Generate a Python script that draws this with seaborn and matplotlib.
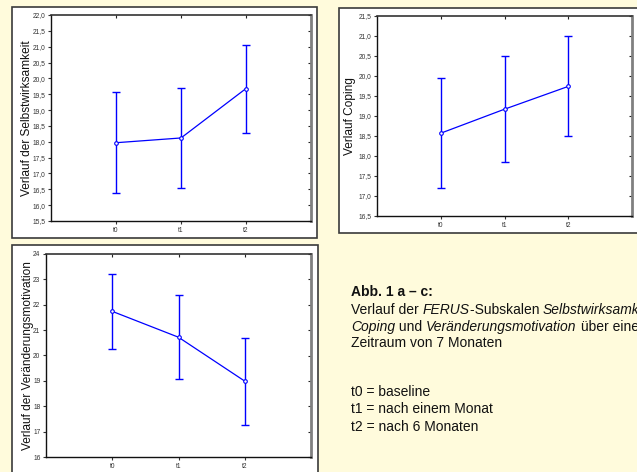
import seaborn as sns
import matplotlib.pyplot as plt
import matplotlib.ticker as mticker
from matplotlib.patches import Rectangle
import numpy as np
import pandas as pd

# Values (mean plus the ends of each error bar).
time_points = ['t0', 't1', 't2']

selbst_mean = [17.97, 18.12, 19.68]
selbst_low = [16.37, 16.53, 18.29]
selbst_high = [19.57, 19.69, 21.05]

coping_mean = [18.57, 19.17, 19.74]
coping_low = [17.19, 17.84, 18.50]
coping_high = [19.94, 20.49, 20.99]

motiv_mean = [21.74, 20.72, 18.99]
motiv_low = [20.27, 19.06, 17.26]
motiv_high = [23.22, 22.39, 20.70]

sns.set_theme(style='white')
plt.rcParams['font.family'] = ['Liberation Sans', 'DejaVu Sans']

bg = '#fffbdc'
fig = plt.figure(figsize=(6.37, 4.72), dpi=100, facecolor=bg)
W, H = 637, 472


def px_box(x0, y0, x1, y1):
    # pixel box (top-left origin) -> figure fraction rect
    return [x0 / W, 1 - y1 / H, (x1 - x0) / W, (y1 - y0) / H]


# White frames behind each panel.
for x0, y0, x1, y1 in [(12, 7, 317, 238), (339, 8, 645, 233), (12, 245, 318, 480)]:
    r = px_box(x0, y0, x1, y1)
    fig.patches.append(Rectangle((r[0], r[1]), r[2], r[3], transform=fig.transFigure,
                                 facecolor='white', edgecolor='#3a3a3a', lw=1.2, zorder=-5))

panels = [
    (px_box(51, 15, 311, 221), selbst_mean, selbst_low, selbst_high,
     'Verlauf der Selbstwirksamkeit', (15.5, 22.0), 0.5, True, 27),
    (px_box(377, 16, 632, 216), coping_mean, coping_low, coping_high,
     'Verlauf Coping', (16.5, 21.5), 0.5, True, 350),
    (px_box(46, 254, 311, 457), motiv_mean, motiv_low, motiv_high,
     'Verlauf der Veränderungsmotivation', (16, 24), 1, False, 28),
]

for rect, mean, low, high, label, ylim, step, decimals, label_x in panels:
    ax = fig.add_axes(rect)
    ax.set_zorder(2)
    ax.set_facecolor('white')
    df = pd.DataFrame({'time': time_points, 'value': mean})
    sns.pointplot(data=df, x='time', y='value', color='#0000ff', errorbar=None,
                  markers='o', markersize=2.6, linewidth=0.9, ax=ax)
    for line in ax.lines:
        line.set_markerfacecolor('white')
        line.set_markeredgewidth(0.8)
        line.set_zorder(3)
    m = np.array(mean)
    ax.errorbar(range(len(time_points)), m, yerr=[m - np.array(low), np.array(high) - m],
                fmt='none', ecolor='#0000ff', elinewidth=1.0, capsize=2.6, capthick=1.0, zorder=2)
    ax.set_xlim(-1, 3)
    ax.set_ylim(*ylim)
    ax.yaxis.set_major_locator(mticker.MultipleLocator(step))
    if decimals:
        ax.yaxis.set_major_formatter(mticker.FuncFormatter(lambda v, p: f'{v:.1f}'.replace('.', ',')))
    else:
        ax.yaxis.set_major_formatter(mticker.FuncFormatter(lambda v, p: f'{v:.0f}'))
    ax.set_xlabel('')
    ax.set_ylabel(label, fontsize=8.6, color='#111111')
    ax.yaxis.label.set_verticalalignment('center')
    ax.yaxis.set_label_coords((label_x - rect[0] * W) / (rect[2] * W), 0.5)
    ax.tick_params(axis='both', labelsize=4.8, colors='#333333', length=2, width=0.8,
                   direction='out', pad=2, left=True, bottom=True)
    sec_y = ax.secondary_yaxis('right')
    sec_y.yaxis.set_major_locator(mticker.MultipleLocator(step))
    sec_y.tick_params(direction='in', length=2, width=0.8, labelright=False, colors='#222222')
    sec_y.spines['right'].set_visible(False)
    sec_x = ax.secondary_xaxis('top')
    sec_x.set_xticks(range(len(time_points)))
    sec_x.tick_params(direction='in', length=2, width=0.8, labeltop=False, colors='#222222')
    sec_x.spines['top'].set_visible(False)
    for side in ['left', 'bottom']:
        ax.spines[side].set_color('#111111')
        ax.spines[side].set_linewidth(1.0)
    ax.spines['top'].set_color('#333333')
    ax.spines['top'].set_linewidth(1.2)
    ax.spines['right'].set_color('#808080')
    ax.spines['right'].set_linewidth(2.0)


def rich_line(x_px, y_px, parts, **kw):
    # Draw a line of text made of (string, style) pieces, one after another.
    renderer = fig.canvas.get_renderer()
    x = x_px
    for s, st in parts:
        t = fig.text(x / W, 1 - y_px / H, s, style=st, va='center', fontsize=10,
                     color='#111111', **kw)
        x += t.get_window_extent(renderer).width


# Caption block.
tx = 351
fig.text(tx / W, 1 - 292 / H, 'Abb. 1 a – c:', fontsize=10, fontweight='bold', va='center',
         color='#111111')
rich_line(tx, 310, [('Verlauf der ', 'normal'), ('FERUS', 'italic'), ('-Subskalen ', 'normal'),
                    ('Selbstwirksamkeit,', 'italic')])
rich_line(tx, 327, [('Coping', 'italic'), (' und ', 'normal'), ('Veränderungsmotivation', 'italic'),
                    (' über einen', 'normal')])
rich_line(tx, 343, [('Zeitraum von 7 Monaten', 'normal')])
rich_line(tx, 392, [('t0 = baseline', 'normal')])
rich_line(tx, 409, [('t1 = nach einem Monat', 'normal')])
rich_line(tx, 427, [('t2 = nach 6 Monaten', 'normal')])

plt.savefig('out.png', dpi=100, facecolor=bg)
